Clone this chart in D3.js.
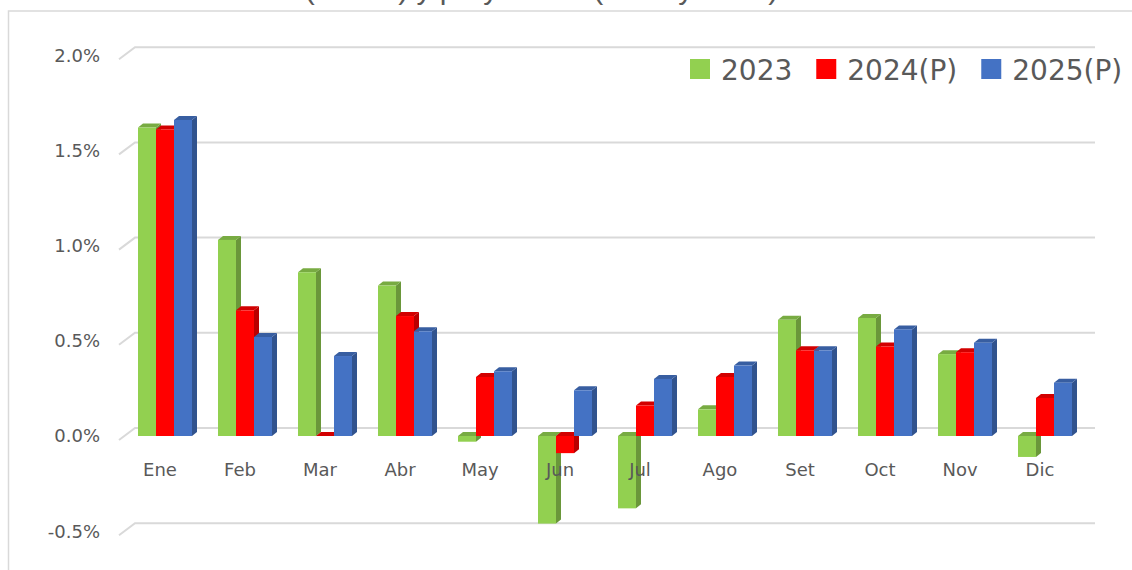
<!DOCTYPE html>
<html>
<head>
<meta charset="utf-8">
<script src="https://cdn.jsdelivr.net/npm/d3@7"></script>
<style>
  body { margin: 0; background: #fff; }
  svg { display: block; }
</style>
</head>
<body>
<div id="chart"></div>
<script>
// monthly values (%)
const months = ["Ene", "Feb", "Mar", "Abr", "May", "Jun", "Jul", "Ago", "Set", "Oct", "Nov", "Dic"];
const seriesNames = ["2023", "2024(P)", "2025(P)"];
const values2023 = [1.62, 1.03, 0.86, 0.79, -0.03, -0.46, -0.38, 0.14, 0.61, 0.62, 0.43, -0.11];
const values2024 = [1.61, 0.66, 0.00, 0.63, 0.31, -0.09, 0.16, 0.31, 0.45, 0.47, 0.44, 0.20];
const values2025 = [1.66, 0.52, 0.42, 0.55, 0.34, 0.24, 0.30, 0.37, 0.45, 0.56, 0.49, 0.28];
const yTicks = [-0.5, 0.0, 0.5, 1.0, 1.5, 2.0];
const titleText = "Inflación mensual (var. %) y proyección (2024 y 2025)";

const COLORS = ["#92d050", "#ff0000", "#4472c4"];

class Bar3DChart {
  constructor(_parentElement) {
    this.parentElement = _parentElement;
    this.initVis();
  }

  initVis() {
    const vis = this;

    vis.WIDTH = 1132;
    vis.HEIGHT = 570;
    // bar depth and floor depth (oblique projection)
    vis.BAR_DX = 5;
    vis.BAR_DY = 4;
    vis.FLOOR_FRONT = { X: 119, Y: 4 };
    vis.FLOOR_BACK = { X: 135, Y: -8 };
    vis.GRID_RIGHT = 1095;

    vis.svg = d3.select(vis.parentElement)
      .append("svg")
      .attr("width", vis.WIDTH)
      .attr("height", vis.HEIGHT)
      .style("font-family", "'DejaVu Sans', sans-serif");

    // chart frame
    vis.svg.append("rect")
      .attr("x", 8.5)
      .attr("y", 11)
      .attr("width", 1300)
      .attr("height", 700)
      .attr("fill", "none")
      .attr("stroke", "#d9d9d9")
      .attr("stroke-width", 1.5);

    // title, sits above the visible area (only descenders show)
    vis.svg.append("text")
      .attr("x", 63)
      .attr("y", -1)
      .attr("font-family", "'Liberation Sans', sans-serif")
      .attr("font-size", "30px")
      .attr("fill", "#595959")
      .text(titleText);

    vis.y = d3.scaleLinear()
      .domain([-0.5, 2.0])
      .range([531.2, 55.2]);

    vis.x = d3.scaleBand()
      .domain(months)
      .range([118, 1092])
      .paddingInner(0.325)
      .paddingOuter(0.25);

    vis.xSub = d3.scaleBand()
      .domain(seriesNames)
      .range([0, vis.x.bandwidth()]);

    vis.color = d3.scaleOrdinal().domain(seriesNames).range(COLORS);

    vis.wrangleData();
  }

  wrangleData() {
    const vis = this;
    const all = [values2023, values2024, values2025];
    vis.data = months.map((m, i) => ({
      month: m,
      bars: seriesNames.map((s, j) => ({ series: s, value: all[j][i] }))
    }));
    vis.updateVis();
  }

  updateVis() {
    const vis = this;
    const fmt = (d) => d3.format(".1f")(d).replace("\u2212", "-") + "%";

    // back wall gridlines + floor slants
    const grid = vis.svg.append("g").attr("class", "grid");
    grid.selectAll(".wall")
      .data(yTicks)
      .enter()
      .append("polyline")
      .attr("points", (d) => {
        const yy = vis.y(d);
        return `${vis.FLOOR_FRONT.X},${yy + vis.FLOOR_FRONT.Y} ` +
          `${vis.FLOOR_BACK.X},${yy + vis.FLOOR_BACK.Y} ` +
          `${vis.GRID_RIGHT},${yy + vis.FLOOR_BACK.Y}`;
      })
      .attr("fill", "none")
      .attr("stroke", "#d9d9d9")
      .attr("stroke-width", 2);

    // y axis labels
    vis.svg.append("g")
      .selectAll("text")
      .data(yTicks)
      .enter()
      .append("text")
      .attr("x", 100)
      .attr("y", (d) => vis.y(d))
      .attr("dy", "0.35em")
      .attr("text-anchor", "end")
      .attr("font-size", "18px")
      .attr("fill", "#595959")
      .text(fmt);

    // bars
    const groups = vis.svg.append("g")
      .selectAll(".month")
      .data(vis.data)
      .enter()
      .append("g")
      .attr("class", "month")
      .attr("transform", (d) => `translate(${vis.x(d.month)},0)`);

    const bar = groups.selectAll(".bar")
      .data((d) => d.bars)
      .enter()
      .append("g")
      .attr("class", "bar");

    const dx = vis.BAR_DX, dy = vis.BAR_DY;
    const geo = (d) => {
      const x0 = vis.xSub(d.series);
      const w = vis.xSub.bandwidth();
      const yT = vis.y(Math.max(d.value, 0));
      const yB = vis.y(Math.min(d.value, 0));
      return { x0, w, yT, yB };
    };

    // side face
    bar.append("polygon")
      .attr("points", (d) => {
        const g = geo(d);
        return `${g.x0 + g.w},${g.yT} ${g.x0 + g.w + dx},${g.yT - dy} ` +
          `${g.x0 + g.w + dx},${g.yB - dy} ${g.x0 + g.w},${g.yB}`;
      })
      .attr("fill", (d) => d3.color(vis.color(d.series)).darker(0.9));

    // top face
    bar.append("polygon")
      .attr("points", (d) => {
        const g = geo(d);
        return `${g.x0},${g.yT} ${g.x0 + dx},${g.yT - dy} ` +
          `${g.x0 + g.w + dx},${g.yT - dy} ${g.x0 + g.w},${g.yT}`;
      })
      .attr("fill", (d) => d3.color(vis.color(d.series)).darker(0.55));

    // front face
    bar.append("rect")
      .attr("x", (d) => geo(d).x0)
      .attr("y", (d) => geo(d).yT)
      .attr("width", vis.xSub.bandwidth())
      .attr("height", (d) => geo(d).yB - geo(d).yT)
      .attr("fill", (d) => vis.color(d.series));

    // category labels
    vis.svg.append("g")
      .selectAll("text")
      .data(months)
      .enter()
      .append("text")
      .attr("x", (d) => vis.x(d) + vis.x.bandwidth() / 2 - 5)
      .attr("y", 470)
      .attr("dy", "0.35em")
      .attr("text-anchor", "middle")
      .attr("font-size", "18px")
      .attr("fill", "#595959")
      .text((d) => d);

    // legend
    const legend = vis.svg.append("g").attr("class", "legend");
    let cursor = 690;
    seriesNames.forEach((s) => {
      legend.append("rect")
        .attr("x", cursor)
        .attr("y", 59)
        .attr("width", 20)
        .attr("height", 20)
        .attr("fill", vis.color(s));
      const t = legend.append("text")
        .attr("x", cursor + 31)
        .attr("y", 80)
        .attr("font-size", "28px")
        .attr("fill", "#595959")
        .text(s);
      cursor += 31 + t.node().getComputedTextLength() + 24;
    });
  }
}

new Bar3DChart("#chart");
</script>
</body>
</html>
